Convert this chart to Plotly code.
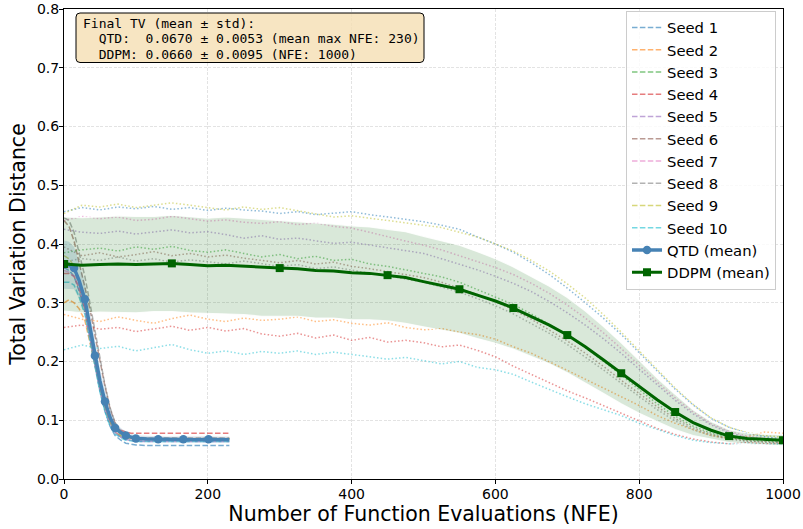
import plotly.graph_objects as go

# ---------------- data ----------------
SEED_NAMES = ["Seed 1", "Seed 2", "Seed 3", "Seed 4", "Seed 5",
              "Seed 6", "Seed 7", "Seed 8", "Seed 9", "Seed 10"]
SEED_COLORS = ["#1f77b4", "#ff7f0e", "#2ca02c", "#d62728", "#9467bd",
               "#8c564b", "#e377c2", "#7f7f7f", "#bcbd22", "#17becf"]

# QTD (fast sampler) per-seed curves
QTD_NFE = [0, 7, 14, 21, 29, 36, 43, 50, 57, 64, 71, 79, 86, 93, 100,
           116, 131, 148, 166, 184, 201, 215, 230]
QTD_SEED_1 = [0.360, 0.355, 0.345, 0.320, 0.285, 0.240, 0.190, 0.150, 0.115, 0.090, 0.074, 0.066,
              0.061, 0.059, 0.058, 0.057, 0.057, 0.057, 0.057, 0.057, 0.057, 0.057, 0.057]
QTD_SEED_2 = [0.300, 0.305, 0.300, 0.290, 0.270, 0.235, 0.195, 0.155, 0.120, 0.095, 0.080, 0.073,
              0.070, 0.069, 0.069, 0.068, 0.069, 0.068, 0.069, 0.068, 0.069, 0.068, 0.069]
QTD_SEED_3 = [0.370, 0.368, 0.360, 0.335, 0.300, 0.250, 0.200, 0.158, 0.125, 0.100, 0.085, 0.077,
              0.072, 0.070, 0.069, 0.068, 0.068, 0.068, 0.067, 0.068, 0.068, 0.067, 0.068]
QTD_SEED_4 = [0.350, 0.350, 0.345, 0.325, 0.290, 0.245, 0.200, 0.160, 0.128, 0.105, 0.090, 0.083,
              0.080, 0.078, 0.078, 0.078, 0.078, 0.078, 0.078, 0.078, 0.078, 0.078, 0.078]
QTD_SEED_5 = [0.360, 0.360, 0.355, 0.330, 0.295, 0.250, 0.200, 0.158, 0.122, 0.097, 0.080, 0.071,
              0.067, 0.065, 0.064, 0.064, 0.064, 0.064, 0.064, 0.064, 0.064, 0.064, 0.064]
QTD_SEED_6 = [0.440, 0.430, 0.405, 0.370, 0.330, 0.290, 0.245, 0.200, 0.158, 0.120, 0.095, 0.080,
              0.073, 0.070, 0.069, 0.068, 0.068, 0.068, 0.068, 0.068, 0.068, 0.068, 0.068]
QTD_SEED_7 = [0.355, 0.352, 0.345, 0.325, 0.290, 0.240, 0.195, 0.152, 0.120, 0.095, 0.080, 0.072,
              0.068, 0.066, 0.065, 0.065, 0.065, 0.065, 0.065, 0.065, 0.065, 0.065, 0.065]
QTD_SEED_8 = [0.445, 0.440, 0.420, 0.385, 0.345, 0.300, 0.255, 0.205, 0.160, 0.122, 0.096, 0.082,
              0.075, 0.072, 0.071, 0.070, 0.070, 0.070, 0.070, 0.070, 0.070, 0.070, 0.070]
QTD_SEED_9 = [0.380, 0.375, 0.362, 0.340, 0.305, 0.255, 0.205, 0.160, 0.125, 0.098, 0.082, 0.074,
              0.070, 0.069, 0.068, 0.068, 0.068, 0.068, 0.068, 0.068, 0.068, 0.068, 0.068]
QTD_SEED_10 = [0.335, 0.335, 0.330, 0.310, 0.280, 0.235, 0.190, 0.148, 0.115, 0.090, 0.077, 0.070,
               0.066, 0.065, 0.064, 0.064, 0.064, 0.064, 0.064, 0.064, 0.064, 0.064, 0.064]
QTD_MEAN = [0.365, 0.364, 0.359, 0.338, 0.306, 0.260, 0.210, 0.167, 0.132, 0.105, 0.087, 0.079,
            0.074, 0.071, 0.069, 0.068, 0.0675, 0.067, 0.0675, 0.067, 0.0675, 0.067, 0.067]
QTD_STD = [0.041, 0.040, 0.036, 0.031, 0.027, 0.025, 0.024, 0.022, 0.019, 0.015, 0.011, 0.008,
           0.007, 0.006, 0.0055, 0.0053, 0.0053, 0.0053, 0.0053, 0.0053, 0.0053, 0.0053, 0.0053]
QTD_MARK_IDX = [0, 2, 4, 6, 8, 10, 12, 14, 16, 18, 20]

# DDPM per-seed curves
DDPM_NFE = [0, 25, 50, 75, 100, 125, 150, 175, 200, 225, 250, 275, 300, 325, 350, 375, 400,
            425, 450, 475, 500, 525, 550, 575, 600, 625, 650, 675, 700, 725, 750, 775, 800,
            825, 850, 875, 900, 925, 950, 975, 1000]
DDPM_SEED_1 = [0.455, 0.462, 0.458, 0.463, 0.460, 0.464, 0.459, 0.462, 0.457, 0.461, 0.458, 0.456,
               0.452, 0.455, 0.450, 0.452, 0.455, 0.450, 0.446, 0.443, 0.438, 0.432, 0.425, 0.412,
               0.400, 0.386, 0.368, 0.348, 0.325, 0.300, 0.274, 0.246, 0.215, 0.183, 0.153, 0.126,
               0.103, 0.088, 0.078, 0.072, 0.068]
DDPM_SEED_2 = [0.280, 0.272, 0.268, 0.276, 0.270, 0.265, 0.273, 0.279, 0.272, 0.268, 0.274, 0.270,
               0.272, 0.276, 0.268, 0.271, 0.265, 0.262, 0.266, 0.258, 0.254, 0.256, 0.250, 0.246,
               0.238, 0.225, 0.214, 0.200, 0.185, 0.170, 0.155, 0.140, 0.125, 0.108, 0.095, 0.084,
               0.074, 0.069, 0.072, 0.080, 0.078]
DDPM_SEED_3 = [0.385, 0.390, 0.393, 0.388, 0.395, 0.391, 0.396, 0.389, 0.386, 0.390, 0.384, 0.378,
               0.382, 0.375, 0.379, 0.372, 0.374, 0.366, 0.362, 0.356, 0.350, 0.344, 0.335, 0.322,
               0.310, 0.297, 0.281, 0.263, 0.245, 0.224, 0.201, 0.177, 0.152, 0.128, 0.107, 0.090,
               0.078, 0.070, 0.066, 0.064, 0.063]
DDPM_SEED_4 = [0.258, 0.262, 0.255, 0.258, 0.251, 0.255, 0.260, 0.253, 0.258, 0.252, 0.256, 0.247,
               0.243, 0.248, 0.240, 0.245, 0.236, 0.241, 0.233, 0.236, 0.232, 0.225, 0.228, 0.219,
               0.208, 0.192, 0.178, 0.165, 0.150, 0.138, 0.125, 0.112, 0.098, 0.086, 0.076, 0.068,
               0.063, 0.060, 0.062, 0.060, 0.061]
DDPM_SEED_5 = [0.425, 0.420, 0.418, 0.422, 0.417, 0.421, 0.424, 0.419, 0.421, 0.416, 0.410, 0.414,
               0.408, 0.410, 0.405, 0.401, 0.403, 0.398, 0.393, 0.389, 0.384, 0.375, 0.366, 0.356,
               0.345, 0.333, 0.319, 0.302, 0.283, 0.262, 0.239, 0.214, 0.187, 0.160, 0.134, 0.111,
               0.092, 0.079, 0.071, 0.067, 0.064]
DDPM_SEED_6 = [0.395, 0.380, 0.385, 0.378, 0.382, 0.387, 0.380, 0.384, 0.378, 0.381, 0.376, 0.372,
               0.368, 0.372, 0.366, 0.369, 0.362, 0.358, 0.353, 0.349, 0.343, 0.335, 0.325, 0.314,
               0.302, 0.288, 0.272, 0.254, 0.235, 0.214, 0.192, 0.168, 0.145, 0.123, 0.103, 0.087,
               0.076, 0.069, 0.065, 0.063, 0.062]
DDPM_SEED_7 = [0.440, 0.447, 0.443, 0.446, 0.440, 0.442, 0.447, 0.443, 0.439, 0.441, 0.437, 0.435,
               0.438, 0.433, 0.436, 0.430, 0.427, 0.420, 0.412, 0.405, 0.398, 0.390, 0.380, 0.370,
               0.360, 0.348, 0.333, 0.316, 0.296, 0.274, 0.249, 0.222, 0.193, 0.165, 0.138, 0.114,
               0.094, 0.081, 0.073, 0.069, 0.066]
DDPM_SEED_8 = [0.370, 0.375, 0.372, 0.378, 0.371, 0.375, 0.369, 0.373, 0.370, 0.366, 0.371, 0.366,
               0.362, 0.365, 0.358, 0.361, 0.355, 0.350, 0.346, 0.340, 0.335, 0.327, 0.318, 0.307,
               0.295, 0.281, 0.265, 0.248, 0.229, 0.208, 0.186, 0.163, 0.140, 0.118, 0.099, 0.084,
               0.074, 0.068, 0.064, 0.062, 0.061]
DDPM_SEED_9 = [0.452, 0.466, 0.463, 0.468, 0.462, 0.466, 0.470, 0.466, 0.462, 0.458, 0.463, 0.459,
               0.462, 0.457, 0.451, 0.446, 0.448, 0.444, 0.440, 0.436, 0.433, 0.428, 0.420, 0.412,
               0.400, 0.388, 0.372, 0.354, 0.332, 0.308, 0.280, 0.250, 0.218, 0.186, 0.155, 0.127,
               0.104, 0.088, 0.079, 0.074, 0.071]
DDPM_SEED_10 = [0.220, 0.228, 0.222, 0.226, 0.218, 0.223, 0.229, 0.220, 0.214, 0.218, 0.212, 0.217,
                0.214, 0.218, 0.212, 0.216, 0.212, 0.208, 0.204, 0.207, 0.202, 0.196, 0.200, 0.190,
                0.186, 0.178, 0.165, 0.152, 0.140, 0.128, 0.118, 0.108, 0.095, 0.084, 0.074, 0.066,
                0.062, 0.060, 0.061, 0.059, 0.060]
DDPM_MEAN = [0.366, 0.364, 0.365, 0.366, 0.365, 0.366, 0.367, 0.365, 0.363, 0.364, 0.362, 0.360,
             0.359, 0.358, 0.355, 0.354, 0.351, 0.350, 0.347, 0.343, 0.336, 0.330, 0.323, 0.313,
             0.303, 0.291, 0.277, 0.262, 0.245, 0.225, 0.203, 0.180, 0.157, 0.135, 0.114, 0.096,
             0.083, 0.073, 0.069, 0.067, 0.066]
DDPM_STD = [0.080, 0.081, 0.081, 0.082, 0.082, 0.081, 0.082, 0.082, 0.081, 0.082, 0.082, 0.083,
            0.082, 0.081, 0.081, 0.080, 0.080, 0.079, 0.078, 0.078, 0.077, 0.076, 0.075, 0.074,
            0.072, 0.070, 0.068, 0.066, 0.064, 0.061, 0.057, 0.052, 0.045, 0.037, 0.030, 0.022,
            0.015, 0.011, 0.009, 0.009, 0.0095]
DDPM_MARK_IDX = [0, 6, 12, 18, 22, 25, 28, 31, 34, 37, 40]

QTD_SEEDS = [QTD_SEED_1, QTD_SEED_2, QTD_SEED_3, QTD_SEED_4, QTD_SEED_5,
             QTD_SEED_6, QTD_SEED_7, QTD_SEED_8, QTD_SEED_9, QTD_SEED_10]
DDPM_SEEDS = [DDPM_SEED_1, DDPM_SEED_2, DDPM_SEED_3, DDPM_SEED_4, DDPM_SEED_5,
              DDPM_SEED_6, DDPM_SEED_7, DDPM_SEED_8, DDPM_SEED_9, DDPM_SEED_10]

BOX_LINES = ["Final TV (mean ± std):",
             "  QTD:  0.0670 ± 0.0053 (mean max NFE: 230)",
             "  DDPM: 0.0660 ± 0.0095 (NFE: 1000)"]

X_TICKS = [0, 200, 400, 600, 800, 1000]
Y_TICKS = [0.0, 0.1, 0.2, 0.3, 0.4, 0.5, 0.6, 0.7, 0.8]

# ---------------- styling ----------------
W, H = 803, 529
ML, MR, MT, MB = 64, 20, 9, 50
FONT = "DejaVu Sans"


def rgba(hex_color, a):
    h = hex_color.lstrip("#")
    r, g, b = int(h[0:2], 16), int(h[2:4], 16), int(h[4:6], 16)
    return f"rgba({r},{g},{b},{a})"


def paper(px, py):
    return (px - ML) / (W - ML - MR), (H - MB - py) / (H - MT - MB)


fig = go.Figure()

# QTD seeds (dashed)
for name, col, ys in zip(SEED_NAMES, SEED_COLORS, QTD_SEEDS):
    fig.add_trace(go.Scatter(x=QTD_NFE, y=ys, mode="lines", name=name,
                             line=dict(color=rgba(col, 0.6), width=1.5, dash="5.5px,2.4px")))

# DDPM seeds (dotted)
for name, col, ys in zip(SEED_NAMES, SEED_COLORS, DDPM_SEEDS):
    fig.add_trace(go.Scatter(x=DDPM_NFE, y=ys, mode="lines", showlegend=False,
                             line=dict(color=rgba(col, 0.5), width=1.5, dash="1.5px,2.2px")))

# QTD std band
q_lo = [m - s for m, s in zip(QTD_MEAN, QTD_STD)]
q_hi = [m + s for m, s in zip(QTD_MEAN, QTD_STD)]
fig.add_trace(go.Scatter(x=QTD_NFE, y=q_lo, mode="lines", line=dict(width=0),
                         showlegend=False, hoverinfo="skip"))
fig.add_trace(go.Scatter(x=QTD_NFE, y=q_hi, mode="lines", line=dict(width=0),
                         fill="tonexty", fillcolor="rgba(70,130,180,0.2)",
                         showlegend=False, hoverinfo="skip"))

# DDPM std band
d_lo = [m - s for m, s in zip(DDPM_MEAN, DDPM_STD)]
d_hi = [m + s for m, s in zip(DDPM_MEAN, DDPM_STD)]
fig.add_trace(go.Scatter(x=DDPM_NFE, y=d_lo, mode="lines",
                         line=dict(width=1.2, color="rgba(255,255,255,0.85)"),
                         showlegend=False, hoverinfo="skip"))
fig.add_trace(go.Scatter(x=DDPM_NFE, y=d_hi, mode="lines",
                         line=dict(width=1.2, color="rgba(255,255,255,0.85)"),
                         fill="tonexty", fillcolor="rgba(0,100,0,0.15)",
                         showlegend=False, hoverinfo="skip"))

# QTD mean
QTD_COL = "#4682b4"
fig.add_trace(go.Scatter(x=QTD_NFE, y=QTD_MEAN, mode="lines", showlegend=False,
                         line=dict(color=QTD_COL, width=3.4)))
fig.add_trace(go.Scatter(x=[QTD_NFE[i] for i in QTD_MARK_IDX],
                         y=[QTD_MEAN[i] for i in QTD_MARK_IDX], mode="markers",
                         showlegend=False,
                         marker=dict(color=QTD_COL, size=8.5, symbol="circle",
                                     line=dict(width=0))))
# DDPM mean
DDPM_COL = "#006400"
fig.add_trace(go.Scatter(x=DDPM_NFE, y=DDPM_MEAN, mode="lines", showlegend=False,
                         line=dict(color=DDPM_COL, width=3)))
fig.add_trace(go.Scatter(x=[DDPM_NFE[i] for i in DDPM_MARK_IDX],
                         y=[DDPM_MEAN[i] for i in DDPM_MARK_IDX], mode="markers",
                         showlegend=False,
                         marker=dict(color=DDPM_COL, size=8, symbol="square",
                                     line=dict(width=0))))

# legend entries for the means
fig.add_trace(go.Scatter(x=[None], y=[None], mode="lines+markers", name="QTD (mean)",
                         line=dict(color=QTD_COL, width=3.4),
                         marker=dict(color=QTD_COL, size=8.5, symbol="circle")))
fig.add_trace(go.Scatter(x=[None], y=[None], mode="lines+markers", name="DDPM (mean)",
                         line=dict(color=DDPM_COL, width=3),
                         marker=dict(color=DDPM_COL, size=8, symbol="square")))

# text box with rounded corners
bx0, by0 = paper(76, 13)
bx1, by1 = paper(424, 62.5)
rx = 4 / (W - ML - MR)
ry = 4 / (H - MT - MB)
path = (f"M {bx0+rx},{by0} L {bx1-rx},{by0} Q {bx1},{by0} {bx1},{by0-ry} "
        f"L {bx1},{by1+ry} Q {bx1},{by1} {bx1-rx},{by1} L {bx0+rx},{by1} "
        f"Q {bx0},{by1} {bx0},{by1+ry} L {bx0},{by0-ry} Q {bx0},{by0} {bx0+rx},{by0} Z")
fig.add_shape(type="path", path=path, xref="paper", yref="paper", layer="above",
              fillcolor="rgba(245,222,179,0.8)", line=dict(color="black", width=1))

for i, txt in enumerate(BOX_LINES):
    tx, ty = paper(81, 23.3 + 15.5 * i)
    fig.add_annotation(x=tx, y=ty, xref="paper", yref="paper", xanchor="left",
                       yanchor="middle", showarrow=False, align="left",
                       text=txt.replace(" ", "\u00a0"),
                       font=dict(family="DejaVu Sans Mono", size=13, color="black"))

lx, ly = paper(776, 10.5)
fig.update_layout(
    width=W, height=H,
    margin=dict(l=ML, r=MR, t=MT, b=MB, autoexpand=False),
    paper_bgcolor="white", plot_bgcolor="white",
    font=dict(family=FONT, color="black", size=14),
    showlegend=True,
    legend=dict(x=lx, y=ly, xanchor="right", yanchor="top", traceorder="normal",
                bgcolor="rgba(255,255,255,0.8)", bordercolor="#cccccc", borderwidth=1,
                font=dict(family=FONT, size=14.8, color="black"),
                itemwidth=30, tracegroupgap=0),
)
fig.update_xaxes(range=[0, 1000], tickvals=X_TICKS, ticktext=[str(v) for v in X_TICKS],
                 showline=True, mirror=True, linecolor="black", linewidth=1,
                 ticks="outside", ticklen=4, tickwidth=1, tickcolor="black",
                 tickfont=dict(size=14, family=FONT), ticklabelstandoff=-2,
                 showgrid=True, gridcolor="rgba(176,176,176,0.35)", gridwidth=0.8,
                 griddash="3px,1.5px", zeroline=False,
                 title=dict(text="Number of Function Evaluations (NFE)",
                            font=dict(size=20.5, family=FONT), standoff=4))
fig.update_yaxes(range=[0, 0.8], tickvals=Y_TICKS, ticktext=[f"{v:.1f}" for v in Y_TICKS],
                 showline=True, mirror=True, linecolor="black", linewidth=1,
                 ticks="outside", ticklen=4, tickwidth=1, tickcolor="black",
                 tickfont=dict(size=14, family=FONT), ticklabelstandoff=-3,
                 showgrid=True, gridcolor="rgba(176,176,176,0.35)", gridwidth=0.8,
                 griddash="3px,1.5px", zeroline=False,
                 title=dict(text="Total Variation Distance",
                            font=dict(size=20.5, family=FONT), standoff=5))

fig.write_html("out.html")
